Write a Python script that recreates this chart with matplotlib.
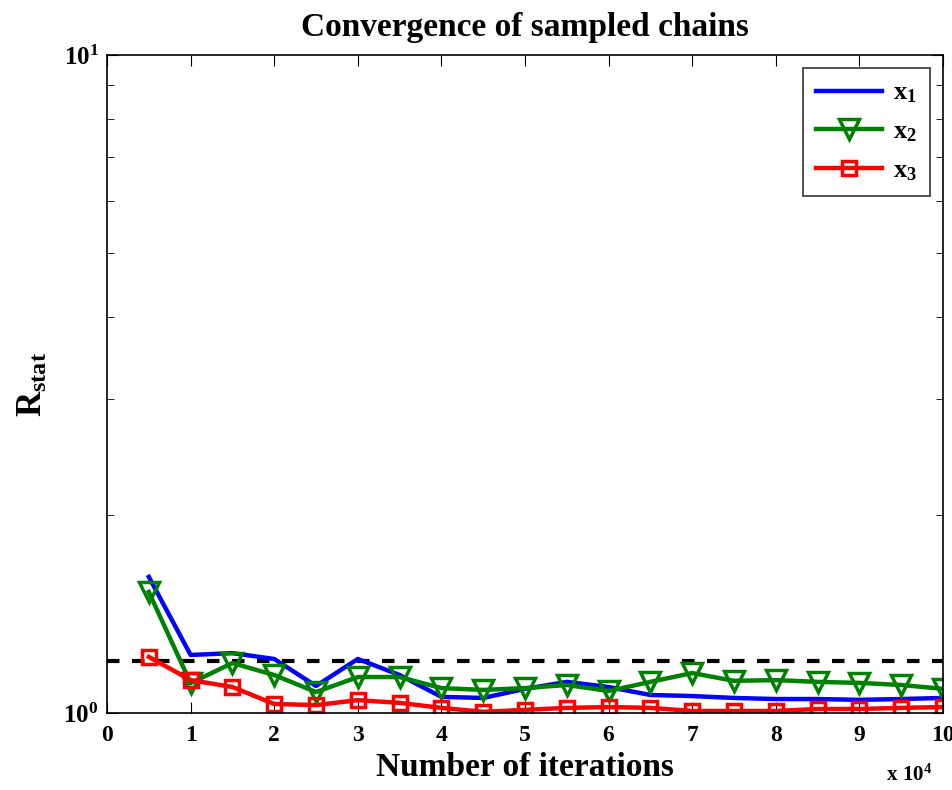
import matplotlib
matplotlib.use("Agg")
import matplotlib.pyplot as plt
from matplotlib.ticker import LogLocator, NullFormatter

plt.rcParams['font.family'] = 'Liberation Serif'
plt.rcParams['font.weight'] = 'bold'
plt.rcParams['mathtext.fontset'] = 'custom'
plt.rcParams['mathtext.rm'] = 'Liberation Serif:bold'
plt.rcParams['mathtext.it'] = 'Liberation Serif:bold'
plt.rcParams['mathtext.bf'] = 'Liberation Serif:bold'

iters = [0.5, 1.0, 1.5, 2.0, 2.5, 3.0, 3.5, 4.0, 4.5, 5.0,
         5.5, 6.0, 6.5, 7.0, 7.5, 8.0, 8.5, 9.0, 9.5, 10.0]
r_x1 = [1.61, 1.225, 1.233, 1.208, 1.099, 1.208, 1.142, 1.058, 1.054, 1.088,
        1.115, 1.095, 1.065, 1.061, 1.054, 1.050, 1.050, 1.047, 1.050, 1.054]
r_x2 = [1.527, 1.11, 1.191, 1.142, 1.076, 1.134, 1.134, 1.091, 1.084, 1.091,
        1.103, 1.080, 1.115, 1.150, 1.119, 1.122, 1.115, 1.111, 1.103, 1.088]
r_x3 = [1.217, 1.122, 1.095, 1.032, 1.028, 1.046, 1.036, 1.018, 1.004, 1.011,
        1.018, 1.021, 1.018, 1.007, 1.007, 1.007, 1.014, 1.014, 1.018, 1.021]
threshold = 1.2

fig = plt.figure(figsize=(9.53, 7.90), dpi=100)
ax = fig.add_axes([0.1123, 0.0975, 0.8772, 0.8329])

ax.axhline(threshold, color='black', lw=3, ls=(0, (3, 3)))
ax.plot(iters, r_x1, color='blue', lw=3.2, label=r'$\mathbf{x_1}$')
ax.plot(iters, r_x2, color='green', lw=3.2, marker='v', markersize=15,
        markerfacecolor='none', markeredgewidth=2.5, label=r'$\mathbf{x_2}$')
ax.plot(iters, r_x3, color='red', lw=3.2, marker='s', markersize=10,
        markerfacecolor='none', markeredgewidth=2.5, label=r'$\mathbf{x_3}$')

ax.set_yscale('log')
ax.set_xlim(0, 10)
ax.set_ylim(1, 10)
ax.set_xticks(range(11))
ax.set_xticklabels([str(i) for i in range(11)])
ax.set_yticks([1, 10])
ax.set_yticklabels([r'$\mathbf{10^0}$', r'$\mathbf{10^1}$'], fontsize=18)
ax.yaxis.set_minor_locator(LogLocator(base=10, subs=range(2, 10)))
ax.yaxis.set_minor_formatter(NullFormatter())
ax.tick_params(which='both', direction='in', top=True, right=True)
ax.tick_params(axis='x', labelsize=17, pad=9)
ax.tick_params(axis='y', pad=6)
ax.tick_params(which='major', length=8)
ax.tick_params(which='minor', length=5)
for s in ax.spines.values():
    s.set_linewidth(1.2)

ax.set_title('Convergence of sampled chains', fontsize=24, fontweight='bold', pad=14)
ax.set_xlabel('Number of iterations', fontsize=24, fontweight='bold', labelpad=4)
ax.set_ylabel(r'$\mathbf{R_{stat}}$', fontsize=25, labelpad=10)
ax.text(0.987, -0.094, r'$\mathbf{x\ 10^4}$', transform=ax.transAxes,
        ha='right', va='center', fontsize=15)

leg = ax.legend(loc='upper right', fontsize=19, fancybox=False, edgecolor='black',
                handlelength=2.5, borderaxespad=0.5, labelspacing=0.55,
                handletextpad=0.4, borderpad=0.5)
leg.get_frame().set_linewidth(1.2)

fig.savefig('out.png', dpi=100)
